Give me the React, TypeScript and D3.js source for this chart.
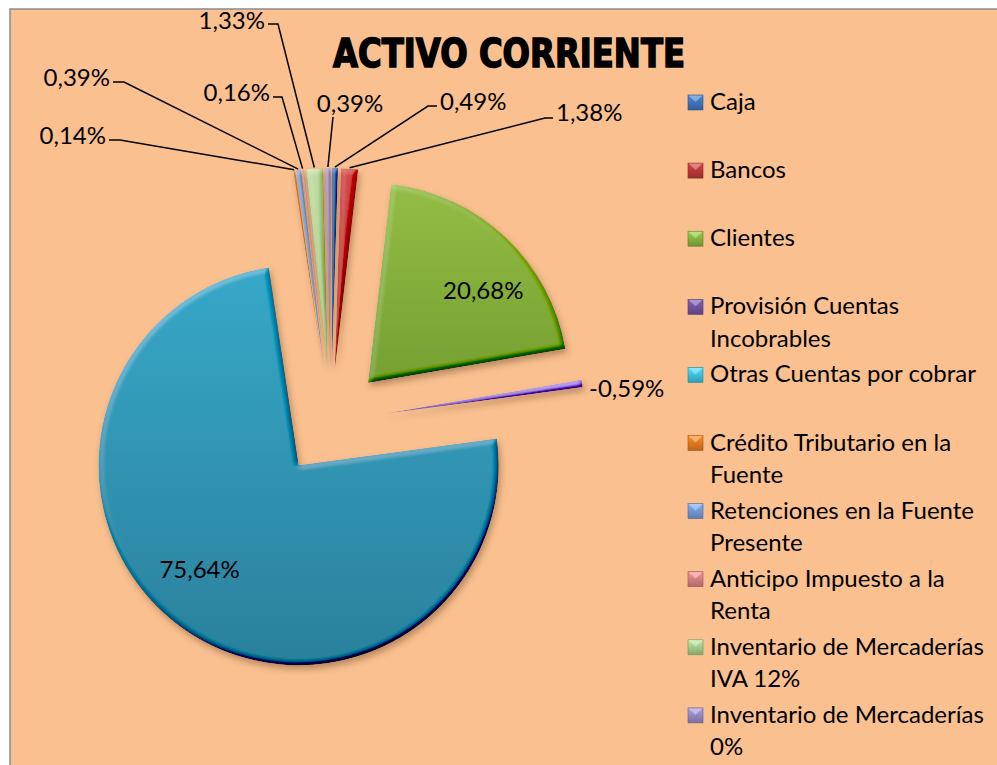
import React, { useMemo } from 'react';
import * as d3 from 'd3';

// Activo corriente, share of each account (%)
const categories = [
  'Caja',
  'Bancos',
  'Clientes',
  'Provisión Cuentas Incobrables',
  'Otras Cuentas por cobrar',
  'Crédito Tributario en la Fuente',
  'Retenciones en la Fuente Presente',
  'Anticipo Impuesto a la Renta',
  'Inventario de Mercaderías IVA 12%',
  'Inventario de Mercaderías 0%',
];
const values = [0.49, 1.38, 20.68, -0.59, 75.64, 0.14, 0.39, 0.16, 1.33, 0.39];
// how the legend wraps each name
const legendLines = [
  ['Caja'],
  ['Bancos'],
  ['Clientes'],
  ['Provisión Cuentas', 'Incobrables'],
  ['Otras Cuentas por cobrar'],
  ['Crédito Tributario en la', 'Fuente'],
  ['Retenciones en la Fuente', 'Presente'],
  ['Anticipo Impuesto a la', 'Renta'],
  ['Inventario de Mercaderías', 'IVA 12%'],
  ['Inventario de Mercaderías', '0%'],
];

// [light, dark] for the slice gradients
const sliceColors = [
  ['#4a7fc6', '#3461a4'],
  ['#d04a48', '#b2302f'],
  ['#93bd45', '#76a031'],
  ['#a58ade', '#7e5fc4'],
  ['#37a8c8', '#2b809c'],
  ['#e07d2a', '#c4661a'],
  ['#8fb0dc', '#7093c6'],
  ['#e0a2a0', '#c98482'],
  ['#c2dca6', '#a6c886'],
  ['#aa9fd0', '#8a7db8'],
];
const legendColors = [
  '#3c6db0', '#b03535', '#7fa83a', '#6a4e96', '#3bb5d4',
  '#d9731d', '#6a90c8', '#c97878', '#9bbf82', '#8c80b8',
];

// label layout: text x, baseline y, anchor, elbow x (null = no leader / inside)
type LabelPos = { x: number; y: number; anchor: 'start' | 'end' | 'middle'; elbow: number | null; ly: number };
const labelPos: (LabelPos | null)[] = [
  { x: 440, y: 110, anchor: 'start', elbow: 428, ly: 106 },
  { x: 556, y: 121, anchor: 'start', elbow: 545, ly: 118 },
  null,
  { x: 589, y: 397, anchor: 'start', elbow: null, ly: 0 },
  null,
  { x: 106, y: 144, anchor: 'end', elbow: 120, ly: 140 },
  { x: 110, y: 86, anchor: 'end', elbow: 124, ly: 82 },
  { x: 270, y: 101, anchor: 'end', elbow: 282, ly: 97 },
  { x: 265, y: 29, anchor: 'end', elbow: 278, ly: 24 },
  { x: 350, y: 112, anchor: 'middle', elbow: 333, ly: 117 },
];

const W = 997;
const H = 765;
const CX = 331;
const CY = 422;
const R = 200;
const EXPLODE = 54;

const fmt = d3
  .formatLocale({ decimal: ',', thousands: '.', grouping: [3], currency: ['$', ''], minus: '-' })
  .format('.2%');
const FONT = 'Lato, "Open Sans", sans-serif';
const FS = 24;

export default function App() {
  const arcs = useMemo(
    () =>
      d3
        .pie<number>()
        .sort(null)
        .value((d) => Math.abs(d))
        .startAngle(0)
        .endAngle(2 * Math.PI)(values),
    []
  );
  const arc = d3.arc<d3.PieArcDatum<number>>().innerRadius(0).outerRadius(R);

  const off = (a: d3.PieArcDatum<number>, dist: number) => {
    const m = (a.startAngle + a.endAngle) / 2;
    return [Math.sin(m) * dist, -Math.cos(m) * dist];
  };

  return (
    <div style={{ position: 'absolute', left: 0, top: 0 }}>
      <svg width={W} height={H} style={{ display: 'block' }}>
        <defs>
          {sliceColors.map((c, i) => (
            <linearGradient key={i} id={`g${i}`} x1="0" y1="0" x2="0" y2="1">
              <stop offset="0%" stopColor={c[0]} />
              <stop offset="100%" stopColor={c[1]} />
            </linearGradient>
          ))}
          {legendColors.map((c, i) => (
            <linearGradient key={i} id={`lg${i}`} x1="0" y1="0" x2="0" y2="1">
              <stop offset="0%" stopColor={d3.color(c)!.brighter(0.6).toString()} />
              <stop offset="100%" stopColor={d3.color(c)!.darker(0.4).toString()} />
            </linearGradient>
          ))}
          <filter id="bevel" filterUnits="userSpaceOnUse" x={-1000} y={-1000} width={3000} height={3000}>
            <feGaussianBlur in="SourceAlpha" stdDeviation="2.5" result="blur" />
            <feDiffuseLighting in="blur" surfaceScale="4" diffuseConstant="1" lightingColor="#ffffff" result="diff">
              <feDistantLight azimuth="235" elevation="45" />
            </feDiffuseLighting>
            <feComposite in="SourceGraphic" in2="diff" operator="arithmetic" k1="0" k2="1" k3="0.42" k4="-0.297" result="lit" />
            <feComposite in="lit" in2="SourceAlpha" operator="in" result="litIn" />
            <feGaussianBlur in="SourceAlpha" stdDeviation="3" result="sb" />
            <feOffset in="sb" dx="2" dy="4" result="so" />
            <feFlood floodColor="#5a3a1a" floodOpacity="0.4" />
            <feComposite in2="so" operator="in" result="shadow" />
            <feMerge>
              <feMergeNode in="shadow" />
              <feMergeNode in="litIn" />
            </feMerge>
          </filter>
        </defs>

        <rect width={W} height={H} fill="#ffffff" />
        <rect x={10} y={9} width={W + 20} height={H + 20} fill="#fac090" stroke="#8a8a8a" strokeWidth={1.5} />

        <text
          x={509}
          y={67}
          textAnchor="middle"
          fontFamily='"DejaVu Sans", sans-serif'
          fontWeight="bold"
          fontSize={39}
          stroke="#000"
          strokeWidth={1.6}
          textLength={352}
          lengthAdjust="spacingAndGlyphs"
        >
          ACTIVO CORRIENTE
        </text>

        <g>
          {arcs.map((a, i) => {
            const [dx, dy] = off(a, EXPLODE);
            return (
              <path
                key={i}
                d={arc(a) ?? ''}
                transform={`translate(${CX + dx},${CY + dy})`}
                fill={`url(#g${i})`}
                filter="url(#bevel)"
              />
            );
          })}
        </g>

        <g fontFamily={FONT} fontSize={FS} fill="#000">
          {arcs.map((a, i) => {
            const p = labelPos[i];
            const txt = fmt(values[i] / 100);
            if (!p) {
              const [dx, dy] = off(a, EXPLODE);
              const [cx, cy] = off(a, i === 2 ? 150 : 145);
              const sx = i === 2 ? 12 : -12;
              const sy = i === 2 ? 25 : -3;
              return (
                <text key={i} x={CX + dx + cx + sx} y={CY + dy + cy + sy} textAnchor="middle">
                  {txt}
                </text>
              );
            }
            const [tx, ty] = off(a, EXPLODE + R + 1);
            const target = [CX + tx, CY + ty];
            let pts: [number, number][] = [];
            if (p.elbow !== null) {
              if (p.anchor === 'middle') pts = [[p.elbow, p.ly], [target[0], target[1]]];
              else {
                const start = p.anchor === 'end' ? p.x + 3 : p.x - 3;
                pts = [[start, p.ly], [p.elbow, p.ly], [target[0], target[1]]];
              }
            }
            return (
              <g key={i}>
                {pts.length > 0 && (
                  <path d={d3.line()(pts) ?? ''} fill="none" stroke="#000" strokeWidth={1.5} />
                )}
                <text x={p.x} y={p.y} textAnchor={p.anchor}>
                  {txt}
                </text>
              </g>
            );
          })}
        </g>

        <g fontFamily={FONT} fontSize={FS} fill="#000">
          {categories.map((c, i) => {
            const y = 110 + i * 68.1;
            return (
              <g key={c}>
                <rect x={688} y={y - 15} width={15} height={15} fill={`url(#lg${i})`} stroke={d3.color(legendColors[i])!.darker(0.8).toString()} strokeWidth={0.6} />
                <path d={`M${688.5},${y - 14.5}L${702.5},${y - 14.5}L${695.5},${y - 8}Z`} fill="#ffffff" opacity={0.35} />
                {legendLines[i].map((line, j) => (
                  <text key={j} x={710} y={y + j * 32.5}>
                    {line}
                  </text>
                ))}
              </g>
            );
          })}
        </g>
      </svg>
    </div>
  );
}
